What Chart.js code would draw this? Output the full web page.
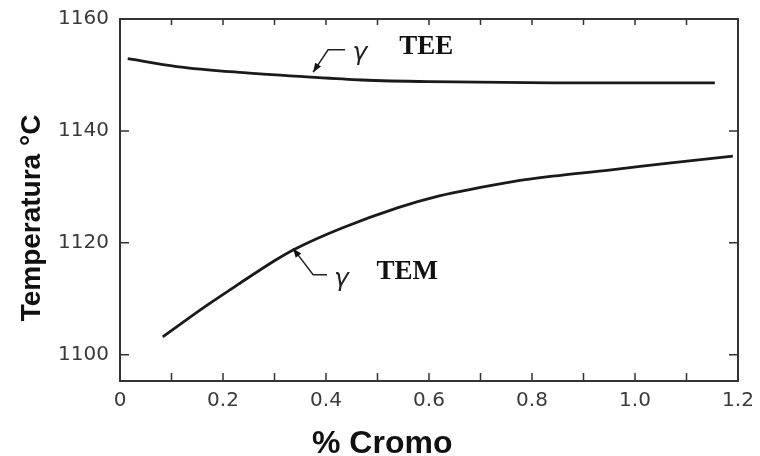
<!DOCTYPE html>
<html>
<head>
<meta charset="utf-8">
<script src="https://cdn.jsdelivr.net/npm/chart.js@4.4.1/dist/chart.umd.min.js"></script>
<style>
  body { margin: 0; background: #fff; }
</style>
</head>
<body>
<canvas id="myChart" width="760" height="456"></canvas>
<script>
// curva TEE (eutectico estable) y TEM (eutectico metaestable)
var teeX = [0.015, 0.11, 0.24, 0.37, 0.47, 0.60, 0.84, 1.155];
var teeY = [1152.9, 1151.5, 1150.4, 1149.6, 1149.1, 1148.8, 1148.6, 1148.6];
var temX = [0.083, 0.17, 0.23, 0.30, 0.34, 0.43, 0.54, 0.62, 0.70, 0.76, 0.84, 0.95, 1.07, 1.19];
var temY = [1103.2, 1108.9, 1112.6, 1116.8, 1118.9, 1122.6, 1126.3, 1128.4, 1129.9, 1130.9, 1131.9, 1133.0, 1134.3, 1135.5];
// ticks
var xTicks = [0, 0.1, 0.2, 0.3, 0.4, 0.5, 0.6, 0.7, 0.8, 0.9, 1.0, 1.1, 1.2];
var xLabels = ['0', '', '0.2', '', '0.4', '', '0.6', '', '0.8', '', '1.0', '', '1.2'];
var yTicks = [1100, 1120, 1140, 1160];

function pts(xs, ys) {
  return xs.map(function (x, i) { return { x: x, y: ys[i] }; });
}

// anotaciones (coordenadas en unidades de datos)
var notes = [
  { tip: [0.375, 1150.5], corner: [0.404, 1154.5], end: [0.437, 1154.5], gamma: [0.466, 1153.9], text: 'TEE', textPos: [0.542, 1155.0] },
  { tip: [0.336, 1119.0], corner: [0.375, 1114.3], end: [0.402, 1114.3], gamma: [0.430, 1113.5], text: 'TEM', textPos: [0.498, 1114.8] }
];

var framePlugin = {
  id: 'frame',
  afterDraw: function (chart) {
    var ctx = chart.ctx, a = chart.chartArea;
    var xs = chart.scales.x, ys = chart.scales.y;
    ctx.save();
    ctx.strokeStyle = '#333';
    ctx.lineWidth = 2;
    ctx.strokeRect(a.left, a.top, a.right - a.left, a.bottom - a.top);
    // ticks hacia adentro
    ctx.lineWidth = 1.5;
    ctx.beginPath();
    xTicks.forEach(function (v) {
      var px = xs.getPixelForValue(v);
      ctx.moveTo(px, a.bottom); ctx.lineTo(px, a.bottom - 8);
      ctx.moveTo(px, a.top); ctx.lineTo(px, a.top + 6);
    });
    yTicks.forEach(function (v) {
      if (v === 1160) return;
      var py = ys.getPixelForValue(v);
      ctx.moveTo(a.left, py); ctx.lineTo(a.left + 9, py);
      ctx.moveTo(a.right, py); ctx.lineTo(a.right - 9, py);
    });
    ctx.stroke();

    // anotaciones
    notes.forEach(function (n) {
      var tx = xs.getPixelForValue(n.tip[0]), ty = ys.getPixelForValue(n.tip[1]);
      var cx = xs.getPixelForValue(n.corner[0]), cy = ys.getPixelForValue(n.corner[1]);
      var ex = xs.getPixelForValue(n.end[0]), ey = ys.getPixelForValue(n.end[1]);
      ctx.strokeStyle = '#222';
      ctx.lineWidth = 1.5;
      ctx.beginPath();
      ctx.moveTo(tx, ty); ctx.lineTo(cx, cy); ctx.lineTo(ex, ey);
      ctx.stroke();
      // punta de flecha
      var ang = Math.atan2(ty - cy, tx - cx);
      ctx.fillStyle = '#111';
      ctx.beginPath();
      ctx.moveTo(tx, ty);
      ctx.lineTo(tx - 9 * Math.cos(ang) + 3.5 * Math.sin(ang), ty - 9 * Math.sin(ang) - 3.5 * Math.cos(ang));
      ctx.lineTo(tx - 9 * Math.cos(ang) - 3.5 * Math.sin(ang), ty - 9 * Math.sin(ang) + 3.5 * Math.cos(ang));
      ctx.closePath();
      ctx.fill();
      ctx.fillStyle = '#222';
      ctx.font = 'italic 25px "DejaVu Sans"';
      ctx.textAlign = 'center';
      ctx.textBaseline = 'middle';
      ctx.fillText('γ', xs.getPixelForValue(n.gamma[0]), ys.getPixelForValue(n.gamma[1]));
      ctx.fillStyle = '#111';
      ctx.font = 'bold 27px "Liberation Serif"';
      ctx.textAlign = 'left';
      ctx.fillText(n.text, xs.getPixelForValue(n.textPos[0]), ys.getPixelForValue(n.textPos[1]));
    });

    // titulos de ejes
    ctx.fillStyle = '#111';
    ctx.font = 'bold 32px "Liberation Sans"';
    ctx.textAlign = 'left';
    ctx.textBaseline = 'alphabetic';
    ctx.fillText('% Cromo', 312, 453);
    ctx.save();
    ctx.translate(40, 218);
    ctx.rotate(-Math.PI / 2);
    ctx.font = 'bold 28px "Liberation Sans"';
    ctx.textAlign = 'center';
    ctx.fillText('Temperatura °C', 0, 0);
    ctx.restore();
    ctx.restore();
  }
};

var ctx = document.getElementById('myChart').getContext('2d');
var myChart = new Chart(ctx, {
  type: 'line',
  data: {
    datasets: [
      { label: 'TEE', data: pts(teeX, teeY), borderColor: '#1a1a1a', borderWidth: 2.8, pointRadius: 0, cubicInterpolationMode: 'monotone', fill: false },
      { label: 'TEM', data: pts(temX, temY), borderColor: '#1a1a1a', borderWidth: 2.8, pointRadius: 0, cubicInterpolationMode: 'monotone', fill: false }
    ]
  },
  options: {
    responsive: false,
    devicePixelRatio: 1,
    animation: false,
    layout: { padding: { top: 19, right: 22, left: 0, bottom: 0 } },
    plugins: { legend: { display: false }, tooltip: { enabled: false } },
    scales: {
      x: {
        type: 'linear',
        min: 0, max: 1.2,
        grid: { display: false },
        border: { display: false },
        afterFit: function (s) { s.height = 75; },
        afterBuildTicks: function (s) { s.ticks = xTicks.map(function (v) { return { value: v }; }); },
        ticks: {
          autoSkip: false, maxRotation: 0, padding: 0,
          color: '#3a3a3a',
          font: { family: 'DejaVu Sans', size: 20 },
          callback: function (v, i) { return xLabels[i]; }
        }
      },
      y: {
        type: 'linear',
        min: 1095.3, max: 1160,
        grid: { display: false },
        border: { display: false },
        afterFit: function (s) { s.width = 120; },
        afterBuildTicks: function (s) { s.ticks = yTicks.map(function (v) { return { value: v }; }); },
        ticks: {
          padding: 3,
          color: '#3a3a3a',
          font: { family: 'DejaVu Sans', size: 20 },
          callback: function (v) { return String(v); }
        }
      }
    }
  },
  plugins: [framePlugin]
});
</script>
</body>
</html>
